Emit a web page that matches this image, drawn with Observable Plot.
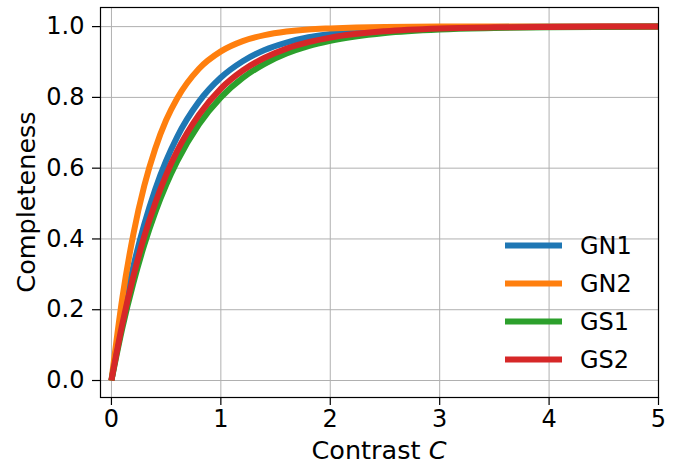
<!DOCTYPE html>
<html>
<head>
<meta charset="utf-8">
<script src="https://cdn.jsdelivr.net/npm/d3@7"></script>
<script src="https://cdn.jsdelivr.net/npm/@observablehq/plot@0.6"></script>
<style>
  html, body { margin: 0; padding: 0; background: #fff; }
  #chart { width: 678px; height: 466px; }
</style>
</head>
<body>
<div id="chart"></div>
<script>
const contrast = [0, 0.1, 0.2, 0.3, 0.4, 0.5, 0.6, 0.8, 1.0, 1.2, 1.4, 1.6, 1.8, 2.0, 2.5, 3.0, 3.5, 4.0, 4.5, 5.0];
const gn1 = [0, 0.176, 0.322, 0.441, 0.540, 0.621, 0.688, 0.788, 0.856, 0.902, 0.934, 0.955, 0.970, 0.979, 0.992, 0.997, 0.999, 1.0, 1.0, 1.0];
const gn2 = [0, 0.234, 0.413, 0.550, 0.655, 0.736, 0.797, 0.881, 0.930, 0.959, 0.976, 0.986, 0.992, 0.995, 0.999, 1.0, 1.0, 1.0, 1.0, 1.0];
const gs1 = [0, 0.149, 0.275, 0.383, 0.475, 0.553, 0.619, 0.724, 0.800, 0.855, 0.895, 0.924, 0.945, 0.960, 0.982, 0.992, 0.996, 0.998, 0.999, 1.0];
const gs2 = [0, 0.160, 0.294, 0.407, 0.501, 0.581, 0.648, 0.751, 0.825, 0.876, 0.912, 0.938, 0.956, 0.969, 0.987, 0.995, 0.998, 0.999, 1.0, 1.0];
const seriesNames = ["GN1", "GN2", "GS1", "GS2"];
const seriesValues = [gn1, gn2, gs1, gs2];
const seriesColors = ["#1f77b4", "#ff7f0e", "#2ca02c", "#d62728"];
const xTicks = [0, 1, 2, 3, 4, 5];
const yTicks = [0, 0.2, 0.4, 0.6, 0.8, 1.0];

const rows = [];
seriesNames.forEach((name, i) => {
  contrast.forEach((c, j) => rows.push({series: name, x: c, y: seriesValues[i][j]}));
});

const W = 678, H = 466;
const mL = 100, mR = 20, mT = 7, mB = 69;
const font = "DejaVu Sans, sans-serif";
const fs = 24;
const fsLabel = 25.5;

const chart = Plot.plot({
  width: W,
  height: H,
  marginLeft: mL,
  marginRight: mR,
  marginTop: mT,
  marginBottom: mB,
  style: {fontFamily: font, fontSize: fs + "px", background: "white", color: "black"},
  x: {domain: [-0.1, 5], ticks: xTicks},
  y: {domain: [-0.048, 1.054], ticks: yTicks},
  color: {domain: seriesNames, range: seriesColors},
  marks: [
    Plot.gridX(xTicks, {stroke: "#b0b0b0", strokeOpacity: 1, strokeWidth: 1}),
    Plot.gridY(yTicks, {stroke: "#b0b0b0", strokeOpacity: 1, strokeWidth: 1}),
    Plot.line(rows, {x: "x", y: "y", z: "series", stroke: "series", strokeWidth: 6, curve: "monotone-x", clip: "frame", strokeLinecap: "butt"}),
    Plot.axisX(xTicks, {tickSize: 8, tickPadding: 4, fontSize: fs, label: null, tickFormat: d3.format("d"), strokeWidth: 1.2}),
    Plot.axisY(yTicks, {tickSize: 8, tickPadding: 8, fontSize: fs, label: null, tickFormat: d3.format(".1f"), strokeWidth: 1.2}),
    Plot.frame({stroke: "black", strokeWidth: 1.2})
  ]
});

const svg = d3.select(chart);
// axis labels
const xl = svg.append("text")
  .attr("x", 379).attr("y", 459)
  .attr("text-anchor", "middle")
  .style("font-family", font).style("font-size", fsLabel + "px").attr("fill", "black");
xl.append("tspan").text("Contrast ");
xl.append("tspan").style("font-style", "italic").text("C");
svg.append("text")
  .attr("transform", `translate(26, 202) rotate(-90)`)
  .attr("text-anchor", "middle").attr("dy", "0.36em")
  .style("font-family", font).style("font-size", fsLabel + "px").attr("fill", "black")
  .text("Completeness");

// legend
const lg = svg.append("g");
seriesNames.forEach((name, i) => {
  const y = 245.5 + i * 38;
  lg.append("line").attr("x1", 505).attr("x2", 562).attr("y1", y).attr("y2", y)
    .attr("stroke", seriesColors[i]).attr("stroke-width", 6);
  lg.append("text").attr("x", 580).attr("y", y).attr("dy", "0.36em")
    .attr("text-anchor", "start")
    .style("font-family", font).style("font-size", fs + "px").attr("fill", "black")
    .text(name);
});

document.getElementById("chart").appendChild(chart);
</script>
</body>
</html>
